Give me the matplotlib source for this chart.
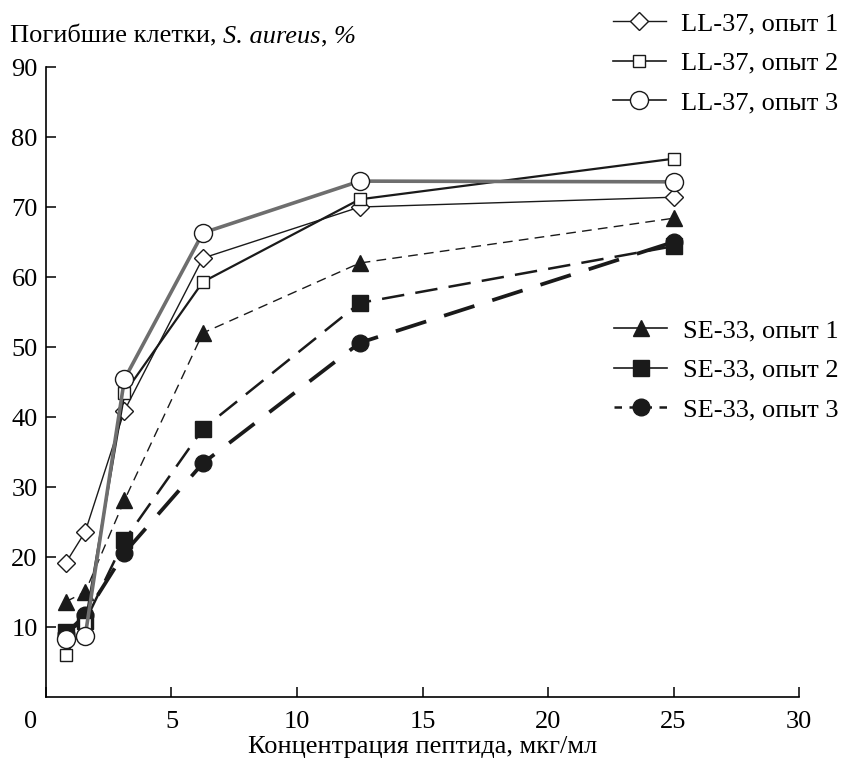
import matplotlib
matplotlib.use("Agg")
import matplotlib.pyplot as plt
from matplotlib.lines import Line2D
from matplotlib.transforms import ScaledTranslation

plt.rcParams['font.family'] = ['Liberation Serif', 'DejaVu Serif']

# concentration of peptide, ug/ml
conc = [0.78125, 1.5625, 3.125, 6.25, 12.5, 25]

# dead cells, %
ll37_1 = [19.1, 23.6, 40.9, 62.7, 70.0, 71.4]
ll37_2 = [6.0, 10.5, 43.4, 59.3, 71.1, 76.9]
ll37_3 = [8.3, 8.7, 45.4, 66.3, 73.7, 73.6]
se33_1 = [13.6, 15.0, 28.1, 52.0, 62.0, 68.4]
se33_2 = [9.3, 10.8, 22.4, 38.3, 56.3, 64.4]
se33_3 = [9.0, 11.7, 20.6, 33.4, 50.6, 65.0]

labels_ll = ["LL-37, опыт 1", "LL-37, опыт 2", "LL-37, опыт 3"]
labels_se = ["SE-33, опыт 1", "SE-33, опыт 2", "SE-33, опыт 3"]

fig = plt.figure(figsize=(8.45, 7.6), dpi=100)
ax = fig.add_axes([0.0544, 0.0829, 0.8912, 0.8289])

blk = '#1a1a1a'
gray = '#6e6e6e'

# SE-33 series (dashed, filled markers)
ax.plot(conc, se33_1, color=blk, lw=1.0, ls=(0, (7, 4.5)), marker='^', ms=12,
        mfc=blk, mec=blk, zorder=2)
ax.plot(conc, se33_2, color=blk, lw=1.8, ls=(0, (9, 4.5)), marker='s', ms=11,
        mfc=blk, mec=blk, zorder=2)
ax.plot(conc, se33_3, color=blk, lw=2.7, ls=(0, (8.5, 5)), marker='o', ms=12,
        mfc=blk, mec=blk, zorder=2)

# LL-37 series (solid, open markers)
ax.plot(conc, ll37_1, color=blk, lw=1.0, marker='D', ms=9,
        mfc='white', mec=blk, mew=1.0, zorder=3)
ax.plot(conc, ll37_2, color=blk, lw=1.6, marker='s', ms=9,
        mfc='white', mec=blk, mew=1.0, zorder=3)
ax.plot(conc, ll37_3, color=gray, lw=2.6, marker='o', ms=13,
        mfc='white', mec=blk, mew=1.0, zorder=3)

ax.set_xlim(0, 30)
ax.set_ylim(0, 90)
ax.set_xticks([0, 5, 10, 15, 20, 25, 30])
ax.set_yticks([10, 20, 30, 40, 50, 60, 70, 80, 90])
ax.spines['top'].set_visible(False)
ax.spines['right'].set_visible(False)
for s in ['left', 'bottom']:
    ax.spines[s].set_linewidth(1.2)
ax.tick_params(direction='in', length=7, width=1.1, labelsize=19, pad=6)
ax.tick_params(axis='x', pad=10)

# the "0" label sits left of the axis corner
xl0 = ax.get_xticklabels()[0]
xl0.set_transform(xl0.get_transform() + ScaledTranslation(-0.15, 0, fig.dpi_scale_trans))

ax.set_xlabel("Концентрация пептида, мкг/мл", fontsize=19, labelpad=2)

# y label: plain and italic pieces placed one after another
fig.canvas.draw()
r = fig.canvas.get_renderer()
t = fig.text(0.012, 0.952, "Погибшие клетки, ", fontsize=19, ha='left', va='center')
for piece, style in [("S. aureus", 'italic'), (", ", 'normal'), ("%", 'italic')]:
    w = t.get_window_extent(r).width
    t = ax.annotate(piece, xy=(0, 0), xycoords=t, xytext=(w, 0),
                    textcoords='offset pixels', fontsize=19, style=style,
                    ha='left', va='bottom', annotation_clip=False)
    t.draw(r)

# legends
h_ll = [
    Line2D([], [], color=blk, lw=1.0, marker='D', ms=9, mfc='white', mec=blk),
    Line2D([], [], color=blk, lw=1.2, marker='s', ms=9, mfc='white', mec=blk),
    Line2D([], [], color=blk, lw=1.2, marker='o', ms=13, mfc='white', mec=blk),
]
h_se = [
    Line2D([], [], color=blk, lw=1.2, marker='^', ms=12, mfc=blk, mec=blk),
    Line2D([], [], color=blk, lw=1.2, marker='s', ms=11, mfc=blk, mec=blk),
    Line2D([], [], color=blk, lw=1.8, ls=(0, (3, 3)), marker='o', ms=12, mfc=blk, mec=blk),
]
fig.legend(h_ll, labels_ll, loc='upper right', bbox_to_anchor=(1.005, 0.998),
           frameon=False, fontsize=19, handlelength=2.0, handletextpad=0.6,
           labelspacing=0.6, borderaxespad=0.0)
fig.legend(h_se, labels_se, loc='upper right', bbox_to_anchor=(1.005, 0.594),
           frameon=False, fontsize=19, handlelength=2.0, handletextpad=0.6,
           labelspacing=0.6, borderaxespad=0.0)

fig.savefig("out.png", dpi=100)
